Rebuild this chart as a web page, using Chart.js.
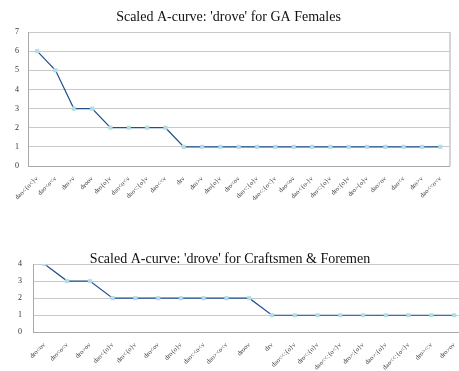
<!DOCTYPE html>
<html>
<head>
<meta charset="utf-8">
<script src="https://cdn.jsdelivr.net/npm/chart.js@4/dist/chart.umd.min.js"></script>
<style>
  html, body { margin: 0; padding: 0; background: #fff; overflow: hidden; width: 459px; height: 371px; }
  .wrap { position: absolute; }
  canvas { display: block; }
</style>
</head>
<body>
<div class="wrap" style="left:3px; top:0px;"><canvas id="females" width="451" height="200"></canvas></div>
<div class="wrap" style="left:-10px; top:240px;"><canvas id="craftsmen" width="480" height="140"></canvas></div>
<script>
// Spellings of 'drove' and their scaled counts, GA Females
const femaleForms = [
  "dao<{o<}v", "dao<o<v", "dro>v", "droov", "dro{o}v", "dao<o<v", "dao<:{o}v", "dao<<v",
  "drv", "dro>v", "dro{o}v", "dro<ov", "dao<:{o}v", "dao<:{o<}v", "dao<ov", "dao<{o-}v",
  "dro<:{o}v", "dro:{o}v", "dro>{o}v", "dao>ov", "dao<v", "dro>v", "dao<<o<v"
];
const femaleScaled = [6, 5, 3, 3, 2, 2, 2, 2, 1, 1, 1, 1, 1, 1, 1, 1, 1, 1, 1, 1, 1, 1, 1];

// Spellings of 'drove' and their scaled counts, Craftsmen & Foremen
const craftForms = [
  "dro<ov", "dro<o<v", "dro>ov", "dao<{o}v", "dro<{o}v", "dro<ov", "dro{o}v", "dao<<o<v",
  "dao><o<v", "droov", "drv", "dao<<:{o}v", "dro<:{o}v", "dao<<:{o<}v", "dro>:{o}v",
  "dao>:{o}v", "dao<<:{o<}v", "dro><:v", "dro>ov"
];
const craftScaled = [4, 3, 3, 2, 2, 2, 2, 2, 2, 2, 1, 1, 1, 1, 1, 1, 1, 1, 1];

const femaleTicks = [0, 1, 2, 3, 4, 5, 6, 7];
const craftTicks = [0, 1, 2, 3, 4];

const SERIF = "'Liberation Serif', 'Times New Roman', serif";
const LINE = '#1f4f8d';
const MARK = '#b3dde5';
const GRID = '#c9c9c9';
const FRAME = '#a9a9a9';

// Draws the right-hand edge of the plot frame
const frameRight = {
  id: 'frameRight',
  afterDraw(chart) {
    const a = chart.chartArea, ctx = chart.ctx;
    ctx.save();
    ctx.strokeStyle = FRAME;
    ctx.lineWidth = 1;
    ctx.beginPath();
    ctx.moveTo(a.right + 0.5, a.top);
    ctx.lineTo(a.right + 0.5, a.bottom);
    ctx.stroke();
    ctx.restore();
  }
};

function makeChart(id, title, forms, values, ticks, opts) {
  return new Chart(document.getElementById(id), {
    type: 'line',
    data: {
      labels: forms,
      datasets: [{
        data: values,
        borderColor: LINE,
        borderWidth: 1.2,
        tension: 0,
        pointStyle: 'rect',
        pointRadius: 2.6,
        pointBackgroundColor: MARK,
        pointBorderColor: MARK,
        pointBorderWidth: 0.5
      }]
    },
    options: {
      responsive: false,
      animation: false,
      devicePixelRatio: 1,
      layout: { padding: 0 },
      plugins: {
        legend: { display: false },
        tooltip: { enabled: false },
        title: {
          display: true,
          text: title,
          color: '#111',
          font: { family: SERIF, size: 14, weight: 'normal', lineHeight: 1.2 },
          padding: opts.titlePad
        }
      },
      scales: {
        x: {
          offset: true,
          grid: { display: false },
          border: { display: true, color: FRAME, width: 1 },
          ticks: {
            autoSkip: false,
            minRotation: 45,
            maxRotation: 45,
            padding: 1,
            color: '#333',
            font: { family: SERIF, size: 6.5 }
          },
          afterFit(scale) { scale.height = opts.xHeight; }
        },
        y: {
          min: 0,
          max: ticks[ticks.length - 1],
          afterBuildTicks(scale) { scale.ticks = ticks.map(v => ({ value: v })); },
          grid: { color: GRID, lineWidth: 1, drawTicks: false },
          border: { display: true, color: FRAME, width: 1 },
          ticks: {
            padding: opts.yPad,
            color: '#333',
            font: { family: SERIF, size: 8 }
          },
          afterFit(scale) { scale.width = opts.yWidth; }
        }
      }
    },
    plugins: opts.rightFrame ? [frameRight] : []
  });
}

makeChart('females', "Scaled A-curve: 'drove' for GA Females", femaleForms, femaleScaled, femaleTicks,
  { titlePad: { top: 8.6, bottom: 6.6 }, xHeight: 34, yWidth: 25, yPad: 9, rightFrame: true });

makeChart('craftsmen', "Scaled A-curve: 'drove' for Craftsmen & Foremen", craftForms, craftScaled, craftTicks,
  { titlePad: { top: 11.1, bottom: -3.9 }, xHeight: 47.7, yWidth: 43, yPad: 11, rightFrame: false });
</script>
</body>
</html>
